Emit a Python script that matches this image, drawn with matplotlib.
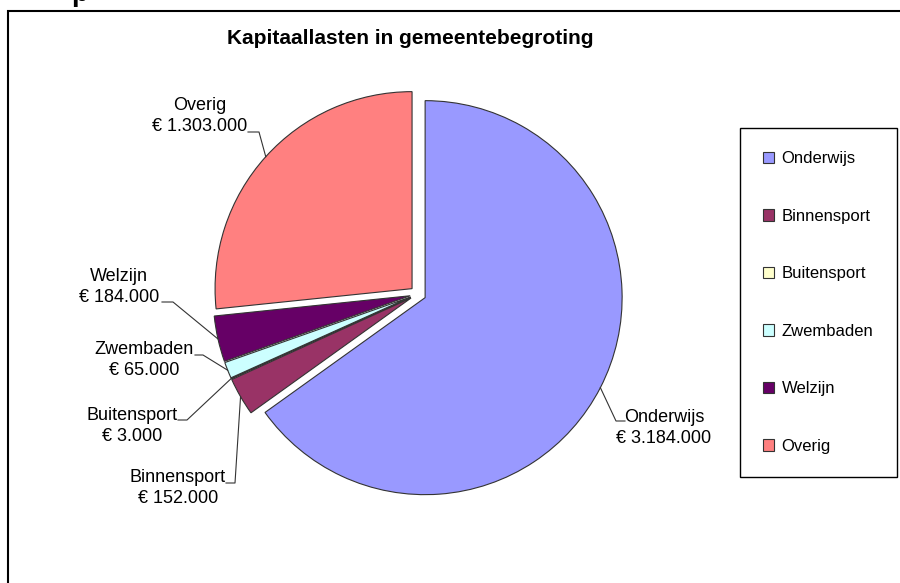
import numpy as np
import matplotlib.pyplot as plt
from matplotlib.patches import Rectangle

plt.rcParams['font.family'] = ['Liberation Sans', 'DejaVu Sans']

# Data
categories = ['Onderwijs', 'Binnensport', 'Buitensport', 'Zwembaden', 'Welzijn', 'Overig']
values = [3184000, 152000, 3000, 65000, 184000, 1303000]
colors = ['#9999FF', '#993366', '#FFFFCC', '#CCFFFF', '#660066', '#FF8080']

# Layout (pixel coordinates, origin top-left)
W, H = 900, 583
pie_center = (418, 294)
pie_radius = 197
explode_px = 8
label_xy = [(664, 428), (178, 488), (132, 426), (144, 360), (119, 287), (200, 116)]
leader_start = [(625, 421), (226, 483), (178, 420), (195, 355), (162, 302), (248, 132)]
leader_elbow = [(616, 421), (235, 483), (187, 420), (203, 355), (173, 302), (259, 132)]


def up(p):
    # convert top-origin pixel coords to data coords
    return (p[0], H - p[1])


fig = plt.figure(figsize=(9, 5.83), dpi=100)
ax = fig.add_axes([0, 0, 1, 1])

wedges, _ = ax.pie(values, colors=colors, startangle=90, counterclock=False,
                   radius=pie_radius, center=up(pie_center),
                   explode=[explode_px] * len(values),
                   wedgeprops=dict(edgecolor='#333333', linewidth=0.8))
ax.set_xlim(0, W)
ax.set_ylim(0, H)
ax.set_aspect('equal')
ax.axis('off')

# Data labels with leader lines
for w, name, v, lxy, s, e in zip(wedges, categories, values, label_xy,
                                 leader_start, leader_elbow):
    mid = np.deg2rad((w.theta1 + w.theta2) / 2)
    anchor = (w.center[0] + w.r * np.cos(mid), w.center[1] + w.r * np.sin(mid))
    p0, p1 = up(s), up(e)
    ax.plot([p0[0], p1[0], anchor[0]], [p0[1], p1[1], anchor[1]],
            color='#333333', lw=0.8)
    txt = name + '\n€ ' + f'{v:,}'.replace(',', '.')
    x, y = up(lxy)
    ax.text(x, y, txt, ha='center', va='center', fontsize=13,
            linespacing=1.3, color='black')

# Title
ax.text(410, H - 44, 'Kapitaallasten in gemeentebegroting', ha='center',
        va='baseline', fontsize=15, fontweight='bold')

# cut-off heading above the chart frame
ax.text(71, H - 1, 'p', ha='left', va='baseline', fontsize=20,
        fontweight='bold', clip_on=False)

# chart frame (right and bottom edges run off the picture)
ax.add_patch(Rectangle((8, -10), W + 20, H - 11 + 10, fill=False,
                       edgecolor='black', lw=1.5, clip_on=False))

# Legend
fig.legend(wedges, categories, loc='upper left',
           bbox_to_anchor=(740 / W, 1 - 128 / H), frameon=True, fancybox=False,
           edgecolor='black', framealpha=1, borderpad=1.4, labelspacing=2.55,
           handlelength=0.65, handleheight=0.65, handletextpad=0.45,
           fontsize=12, borderaxespad=0)

fig.savefig('out.png', dpi=100)
